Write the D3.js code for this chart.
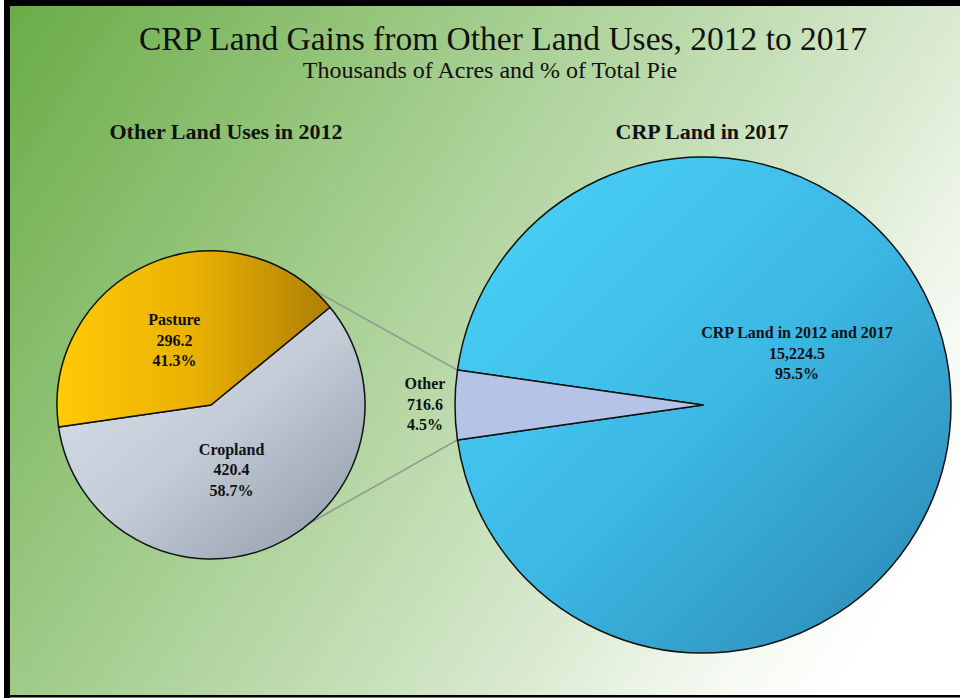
<!DOCTYPE html>
<html>
<head>
<meta charset="utf-8">
<script src="https://cdn.jsdelivr.net/npm/d3@7"></script>
<style>
  body { margin: 0; background: #ffffff; }
  svg { display: block; }
  text { font-family: "Liberation Serif", "Times New Roman", serif; fill: #111; }
</style>
</head>
<body>
<svg id="chart" width="960" height="698"></svg>
<script>
// data (thousands of acres)
const leftCategories = ["Cropland", "Pasture"];
const leftValues = [420.4, 296.2];
const leftPercents = ["58.7%", "41.3%"];

const rightCategories = ["CRP Land in 2012 and 2017", "Other"];
const rightValues = [15224.5, 716.6];
const rightValueLabels = ["15,224.5", "716.6"];
const rightPercents = ["95.5%", "4.5%"];

const svg = d3.select("#chart");
const width = +svg.attr("width");
const height = +svg.attr("height");

const defs = svg.append("defs");

function addGradient(id, x1, y1, x2, y2, stops, userSpace) {
  const g = defs.append("linearGradient")
    .attr("id", id)
    .attr("x1", x1).attr("y1", y1)
    .attr("x2", x2).attr("y2", y2);
  if (userSpace) g.attr("gradientUnits", "userSpaceOnUse");
  stops.forEach((s) => {
    g.append("stop").attr("offset", s[0]).attr("stop-color", s[1]);
  });
}

addGradient("bg", 0, 0, 913, 593, [
  [0, "#69ab45"], [0.35, "#9dca86"], [0.72, "#d6e8cc"], [0.9, "#f6faf3"], [1, "#ffffff"]
], true);
addGradient("pasture", 0, 0, 1, 0, [
  [0, "#ffca06"], [0.5, "#eab102"], [1, "#ad7f05"]
]);
addGradient("cropland", 0, 0, 1, 1, [
  [0, "#dbe3ec"], [0.5, "#c3ccd7"], [1, "#8d99a6"]
]);
addGradient("crp", 0.15, 0.1, 1, 0.95, [
  [0, "#47cdf4"], [0.45, "#3cb8e4"], [1, "#2b88b2"]
]);

// background panel + frame
svg.append("rect")
  .attr("x", 10).attr("y", 6)
  .attr("width", width - 10).attr("height", height - 9)
  .attr("fill", "url(#bg)");
svg.append("rect").attr("x", 4).attr("y", 0).attr("width", width - 4).attr("height", 6).attr("fill", "#000");
svg.append("rect").attr("x", 4).attr("y", 0).attr("width", 6).attr("height", height).attr("fill", "#000");
svg.append("rect").attr("x", 4).attr("y", height - 3).attr("width", width - 4).attr("height", 2.5).attr("fill", "#000");

// titles
svg.append("text")
  .attr("x", 503).attr("y", 50)
  .attr("text-anchor", "middle")
  .style("font-size", "33.5px")
  .text("CRP Land Gains from Other Land Uses, 2012 to 2017");
svg.append("text")
  .attr("x", 490).attr("y", 78)
  .attr("text-anchor", "middle")
  .style("font-size", "24px")
  .text("Thousands of Acres and % of Total Pie");

svg.append("text")
  .attr("x", 226).attr("y", 139)
  .attr("text-anchor", "middle")
  .style("font-size", "22px").style("font-weight", "bold")
  .text("Other Land Uses in 2012");
svg.append("text")
  .attr("x", 702).attr("y", 139)
  .attr("text-anchor", "middle")
  .style("font-size", "22px").style("font-weight", "bold")
  .text("CRP Land in 2017");

// pies
const left = { cx: 211, cy: 405, r: 154 };
const right = { cx: 703, cy: 405, r: 248 };

const deg = Math.PI / 180;

const leftPie = d3.pie().sort(null)
  .startAngle(50.6 * deg)
  .endAngle(50.6 * deg + 2 * Math.PI);
const leftArcs = leftPie(leftValues);

const rightTotal = d3.sum(rightValues);
const otherSweep = (rightValues[1] / rightTotal) * 2 * Math.PI;
const rightStart = 1.5 * Math.PI + otherSweep / 2;
const rightPie = d3.pie().sort(null)
  .startAngle(rightStart)
  .endAngle(rightStart + 2 * Math.PI);
const rightArcs = rightPie(rightValues);

const leftArc = d3.arc().innerRadius(0).outerRadius(left.r);
const rightArc = d3.arc().innerRadius(0).outerRadius(right.r);

// connector lines from the small pie to the "Other" slice
const otherArc = rightArcs[1];
const connectorAngles = [41.5 * deg, 140 * deg];
const otherEnds = [otherArc.endAngle, otherArc.startAngle];
const connectors = svg.append("g");
connectorAngles.forEach((a, i) => {
  const p0 = d3.pointRadial(a, left.r);
  const p1 = d3.pointRadial(otherEnds[i], right.r);
  connectors.append("line")
    .attr("x1", left.cx + p0[0]).attr("y1", left.cy + p0[1])
    .attr("x2", right.cx + p1[0]).attr("y2", right.cy + p1[1])
    .attr("stroke", "#8f9890")
    .attr("stroke-width", 1.6);
});

const leftFills = ["url(#cropland)", "url(#pasture)"];
const rightFills = ["url(#crp)", "#b5c3e7"];

svg.append("g")
  .attr("transform", `translate(${left.cx},${left.cy})`)
  .selectAll("path")
  .data(leftArcs)
  .join("path")
  .attr("d", leftArc)
  .attr("fill", (d, i) => leftFills[i])
  .attr("stroke", "#111")
  .attr("stroke-width", 1.5)
  .attr("stroke-linejoin", "round");

svg.append("g")
  .attr("transform", `translate(${right.cx},${right.cy})`)
  .selectAll("path")
  .data(rightArcs)
  .join("path")
  .attr("d", rightArc)
  .attr("fill", (d, i) => rightFills[i])
  .attr("stroke", "#111")
  .attr("stroke-width", 1.5)
  .attr("stroke-linejoin", "round");

// labels
function addLabel(x, y, lines) {
  const t = svg.append("text")
    .attr("text-anchor", "middle")
    .style("font-size", "16px")
    .style("font-weight", "bold");
  lines.forEach((s, i) => {
    t.append("tspan")
      .attr("x", x)
      .attr("y", y + i * 20.5)
      .text(s);
  });
}

const labelArc = d3.arc().innerRadius(left.r * 0.46).outerRadius(left.r * 0.46);
leftArcs.forEach((d, i) => {
  const c = labelArc.centroid(d);
  addLabel(left.cx + c[0] - 8, left.cy + c[1] - 15, [
    leftCategories[i], d3.format(".1f")(leftValues[i]), leftPercents[i]
  ]);
});

addLabel(right.cx + 94, right.cy - 67, [
  rightCategories[0], rightValueLabels[0], rightPercents[0]
]);
addLabel(right.cx - 278, right.cy - 16, [
  rightCategories[1], rightValueLabels[1], rightPercents[1]
]);
</script>
</body>
</html>
